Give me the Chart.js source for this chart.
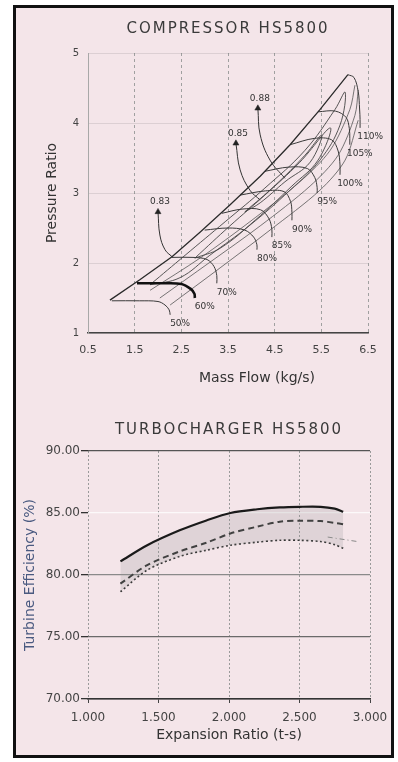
<!DOCTYPE html>
<html><head><meta charset="utf-8">
<script src="https://cdn.jsdelivr.net/npm/chart.js@4.4.1/dist/chart.umd.min.js"></script>
<style>
html,body{margin:0;padding:0;background:#fff;width:398px;height:762px;overflow:hidden}
#frame{position:absolute;left:13px;top:5px;width:375px;height:747px;border:3px solid #111;background:#f4e5e9}
canvas{position:absolute;left:0}
#c1{top:0}
#c2{top:395px}
</style></head><body>
<div id="frame"></div>
<canvas id="c1" width="398" height="395"></canvas>
<canvas id="c2" width="398" height="367"></canvas>
<script>
// ---------- Compressor map data (mass flow kg/s, pressure ratio) ----------
const massFlowTicks = [0.5, 1.5, 2.5, 3.5, 4.5, 5.5, 6.5];
const pressureTicks = [1, 2, 3, 4, 5];
const surgeLine = [[0.97,1.47],[1.61,1.76],[2.3,2.09],[2.9,2.44],[3.54,2.83],[4.19,3.24],[4.83,3.69],[5.47,4.19],[6.07,4.69]];
const speedLabels = ['50%','60%','70%','80%','85%','90%','95%','100%','105%','110%'];
const speed50  = [[1.01,1.46],[1.6,1.46],[2.0,1.45],[2.15,1.40],[2.24,1.33],[2.26,1.26]];
const speed60  = [[1.55,1.71],[2.1,1.71],[2.5,1.70],[2.7,1.63],[2.78,1.56],[2.79,1.50]];
const speed70  = [[2.30,2.08],[2.75,2.08],[3.05,2.05],[3.2,1.95],[3.26,1.82],[3.26,1.71]];
const speed80  = [[3.0,2.47],[3.5,2.5],[3.86,2.47],[4.05,2.37],[4.12,2.26],[4.12,2.19]];
const speed85  = [[3.37,2.71],[3.8,2.77],[4.2,2.76],[4.38,2.63],[4.44,2.48],[4.44,2.37]];
const speed90  = [[3.76,2.97],[4.3,3.03],[4.7,3.02],[4.84,2.88],[4.87,2.72],[4.87,2.61]];
const speed95  = [[4.29,3.31],[4.8,3.37],[5.2,3.35],[5.36,3.22],[5.41,3.08],[5.41,3.0]];
const speed100 = [[4.83,3.69],[5.35,3.78],[5.72,3.76],[5.86,3.6],[5.9,3.4],[5.9,3.26]];
const speed105 = [[5.43,4.16],[5.8,4.17],[6.03,4.08],[6.1,3.92],[6.11,3.78],[6.11,3.69]];
const speed110 = [[6.07,4.69],[6.2,4.65],[6.29,4.45],[6.32,4.2],[6.33,4.05],[6.33,3.93]];
const chokeBand1 = [[1.83,1.61],[2.9,2.07],[3.97,2.59],[5.04,3.16],[5.69,3.61],[6.11,4.19],[6.22,4.54]];
const chokeBand2 = [[2.04,1.5],[3.11,2.01],[4.19,2.53],[5.26,3.1],[5.86,3.54],[6.22,4.11],[6.29,4.47]];
const chokeBand3 = [[2.26,1.4],[3.33,1.93],[4.4,2.47],[5.47,3.04],[6.01,3.47],[6.29,4.04]];
const effLabels = ['0.83','0.85','0.88'];
const effIsland83 = [[1.83,1.69],[2.58,2.11],[3.44,2.59],[4.29,3.07],[5.15,3.61],[5.79,4.19],[6.01,4.44],[5.9,3.97],[5.47,3.47],[4.83,3.04],[3.97,2.54],[3.11,2.11],[2.47,1.79],[1.83,1.69]];
const effIsland85 = [[2.79,2.07],[3.54,2.53],[4.29,2.97],[5.04,3.44],[5.69,3.93],[5.43,3.47],[4.87,3.1],[4.08,2.61],[3.33,2.21],[2.79,2.07]];
const effIsland88 = [[3.86,2.73],[4.51,3.11],[5.15,3.54],[5.51,3.83],[5.26,3.44],[4.72,3.16],[4.19,2.86],[3.86,2.73]];
const effArrow83 = [[2.0,2.73],[2.04,2.4],[2.15,2.19],[2.3,2.09]];
const effArrow85 = [[3.67,3.71],[3.76,3.33],[3.97,3.04],[4.19,2.9]];
const effArrow88 = [[4.14,4.21],[4.19,3.83],[4.4,3.47],[4.72,3.21]];

// ---------- Turbocharger data ----------
const expansionTicks = [1.0, 1.5, 2.0, 2.5, 3.0];
const efficiencyTicks = [70, 75, 80, 85, 90];
const expRatio = [1.23, 1.42, 1.65, 1.84, 2.01, 2.2, 2.36, 2.5, 2.65, 2.75, 2.81];
const effSolid  = [81.1, 82.4, 83.6, 84.4, 85.0, 85.3, 85.45, 85.5, 85.5, 85.35, 85.1];
const effDashed = [79.3, 80.8, 81.9, 82.6, 83.35, 83.9, 84.3, 84.38, 84.35, 84.2, 84.1];
const effDotted = [78.65, 80.4, 81.5, 82.0, 82.4, 82.65, 82.8, 82.8, 82.7, 82.45, 82.15];
const extraRatio = [2.70, 2.91];
const extraEff = [83.06, 82.7];

Chart.defaults.font.family = '"DejaVu Sans", sans-serif';
Chart.defaults.color = '#333';

const speedLines = [speed50, speed60, speed70, speed80, speed85, speed90, speed95, speed100, speed105, speed110];
const effArrows = [effArrow83, effArrow85, effArrow88];
const toXY = a => a.map(p => ({x: p[0], y: p[1]}));

const spacedTitle = {
  id: 'spacedTitle',
  afterLayout(chart) {
    const tb = chart.titleBlock;
    if (tb && !tb.__sp) {
      const orig = tb.draw;
      tb.draw = function(...a) { this.ctx.save(); this.ctx.letterSpacing = '2px'; orig.apply(this, a); this.ctx.restore(); };
      tb.__sp = true;
    }
  }
};

const mapLabels = {
  id: 'mapLabels',
  afterDatasetsDraw(chart) {
    const {ctx, scales: {x, y}} = chart;
    ctx.save();
    ctx.font = '9px "DejaVu Sans"';
    ctx.fillStyle = '#333';
    ctx.textAlign = 'center';
    ctx.textBaseline = 'middle';
    speedLines.forEach((line, i) => {
      const e = line[line.length - 1];
      ctx.fillText(speedLabels[i], x.getPixelForValue(e[0]) + 10, y.getPixelForValue(e[1]) + 9);
    });
    effArrows.forEach((line, i) => {
      const p = line[0];
      ctx.fillText(effLabels[i], x.getPixelForValue(p[0]) + 2, y.getPixelForValue(p[1]) - 10);
    });
    ctx.font = '14px "DejaVu Sans"';
    ctx.fillStyle = '#333';
    ctx.fillText('Mass Flow (kg/s)', (x.left + x.right) / 2 + 29, x.bottom - 17);
    ctx.restore();
  }
};

const lineDs = (data, opts) => Object.assign({
  data: toXY(data), showLine: true, pointRadius: 0, borderColor: '#333', borderWidth: 1, tension: 0, fill: false
}, opts || {});

const ds1 = [];
ds1.push(lineDs(surgeLine, {borderWidth: 1.3, borderColor: '#2a2a2a'}));
speedLines.forEach((l, i) => ds1.push(lineDs(l, {tension: 0.35, borderWidth: i === 1 ? 2.6 : 1, borderColor: i === 1 ? '#111' : '#3a3a3a'})));
[chokeBand1, chokeBand2, chokeBand3].forEach(l => ds1.push(lineDs(l, {tension: 0.3, borderWidth: 0.8, borderColor: '#555'})));
[effIsland83, effIsland85, effIsland88].forEach(l => ds1.push(lineDs(l, {tension: 0.4, borderWidth: 0.9, borderColor: '#444'})));
effArrows.forEach(l => ds1.push(lineDs(l, {tension: 0.4, borderWidth: 1, borderColor: '#333',
  pointRadius: l.map((p, i) => i === 0 ? 3.5 : 0), pointStyle: 'triangle', pointBackgroundColor: '#222', pointBorderColor: '#222', pointBorderWidth: 0.5})));

new Chart(document.getElementById('c1'), {
  type: 'scatter',
  data: {datasets: ds1},
  options: {
    responsive: false, animation: false, events: [],
    layout: {padding: {left: 0, right: 30, top: 0, bottom: 0}},
    plugins: {
      legend: {display: false}, tooltip: {enabled: false},
      title: {display: true, text: 'COMPRESSOR HS5800', fullSize: false, color: '#3a3a3a',
        font: {size: 15, weight: 'normal'}, padding: {top: 20, bottom: 15}}
    },
    scales: {
      x: {
        type: 'linear', min: 0.5, max: 6.5,
        afterBuildTicks: s => { s.ticks = massFlowTicks.map(v => ({value: v})); },
        afterFit: s => { s.height = 62; },
        grid: {color: '#a0a0a0', lineWidth: 1, drawTicks: false},
        border: {display: true, color: '#444', width: 1.5, dash: [3, 3]},
        ticks: {padding: 11, color: '#444', font: {size: 11}, maxRotation: 0, autoSkip: false, callback: v => v.toFixed(1)}
      },
      y: {
        type: 'linear', min: 1, max: 5,
        afterBuildTicks: s => { s.ticks = pressureTicks.map(v => ({value: v})); },
        afterFit: s => { s.width = 88; },
        grid: {color: 'rgba(110,110,110,0.18)', lineWidth: 1, drawTicks: false},
        border: {display: true, color: '#a8a8a8', width: 1},
        ticks: {padding: 9, color: '#444', font: {size: 10}, callback: v => String(v)},
        title: {display: true, text: 'Pressure Ratio', color: '#333', font: {size: 14}, padding: {top: 43.6, bottom: 0}}
      }
    }
  },
  plugins: [spacedTitle, mapLabels]
});

// ---------- Turbocharger chart ----------
const yGridColor = c => {
  const v = c.tick && c.tick.value;
  if (v === 90) return '#555';
  if (v === 85) return 'rgba(255,255,255,0.75)';
  if (v === 80) return '#8a8a8a';
  if (v === 75) return '#6a6a6a';
  return '#333';
};

new Chart(document.getElementById('c2'), {
  type: 'scatter',
  data: {
    datasets: [
      {data: expRatio.map((x, i) => ({x, y: effSolid[i]})), showLine: true, pointRadius: 0, borderColor: '#1a1a1a', borderWidth: 2.2, tension: 0.3,
       fill: 2, backgroundColor: 'rgba(150,150,150,0.22)'},
      {data: expRatio.map((x, i) => ({x, y: effDashed[i]})), showLine: true, pointRadius: 0, borderColor: '#2a2a2a', borderWidth: 2, borderDash: [6, 4], tension: 0.3, fill: false},
      {data: expRatio.map((x, i) => ({x, y: effDotted[i]})), showLine: true, pointRadius: 0, borderColor: '#333', borderWidth: 1.6, borderDash: [2, 2.5], tension: 0.3, fill: false},
      {data: extraRatio.map((x, i) => ({x, y: extraEff[i]})), showLine: true, pointRadius: 0, borderColor: '#888', borderWidth: 1, borderDash: [5, 3, 1, 3], tension: 0, fill: false}
    ]
  },
  options: {
    responsive: false, animation: false, events: [],
    layout: {padding: {left: 0, right: 28, top: 0, bottom: 0}},
    plugins: {
      legend: {display: false}, tooltip: {enabled: false}, filler: {propagate: false},
      title: {display: true, text: 'TURBOCHARGER HS5800', fullSize: false, color: '#3a3a3a',
        font: {size: 15, weight: 'normal'}, padding: {top: 26, bottom: 12}}
    },
    scales: {
      x: {
        type: 'linear', min: 1, max: 3,
        afterBuildTicks: s => { s.ticks = expansionTicks.map(v => ({value: v})); },
        afterFit: s => { s.height = 63; },
        grid: {color: '#9a9a9a', lineWidth: 1, drawTicks: true, tickLength: 4, tickColor: '#444'},
        border: {display: true, color: '#333', width: 1.5, dash: [2, 2]},
        ticks: {padding: 8, color: '#444', font: {size: 12}, maxRotation: 0, autoSkip: false, callback: v => v.toFixed(3)},
        title: {display: true, text: 'Expansion Ratio (t-s)', color: '#333', font: {size: 14}, padding: {top: 0, bottom: 18.6}}
      },
      y: {
        type: 'linear', min: 70, max: 90,
        afterBuildTicks: s => { s.ticks = efficiencyTicks.map(v => ({value: v})); },
        afterFit: s => { s.width = 88; },
        grid: {color: yGridColor, lineWidth: 1.3, drawTicks: true, tickLength: 7, tickColor: '#333'},
        border: {display: false},
        ticks: {padding: 1, color: '#444', font: {size: 12}, callback: v => v.toFixed(2)},
        title: {display: true, text: 'Turbine Efficiency (%)', color: '#4a5a80', font: {size: 14}, padding: {top: 21.6, bottom: 0}}
      }
    }
  },
  plugins: [spacedTitle]
});
</script>
</body></html>
